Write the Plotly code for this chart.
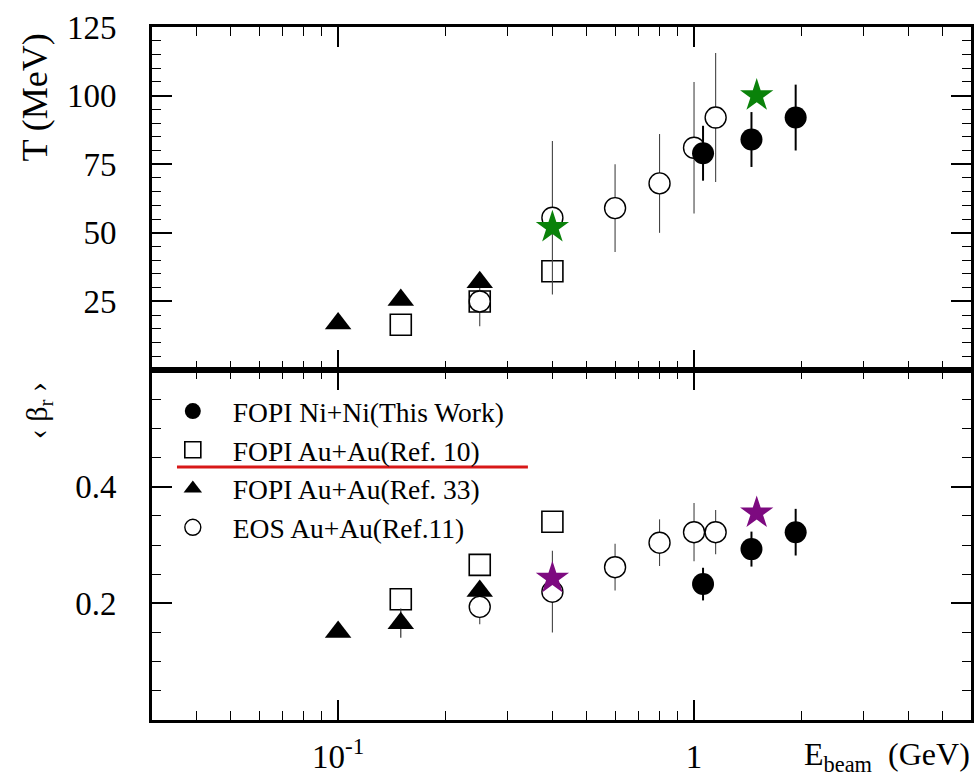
import numpy as np
import plotly.graph_objects as go

# ---- data -------------------------------------------------------------
# FOPI Ni+Ni (this work)
E_ni = [1.06, 1.45, 1.93]
T_ni = [79, 84, 92]
T_ni_err = [10, 10, 12]
B_ni = [0.233, 0.293, 0.322]
B_ni_err = [0.028, 0.030, 0.040]

# FOPI Au+Au (Ref. 10)
E_au10 = [0.15, 0.25, 0.40]
T_au10 = [16.5, 25, 36]
B_au10 = [0.207, 0.266, 0.340]

# FOPI Au+Au (Ref. 33)
E_au33 = [0.10, 0.15, 0.25]
T_au33 = [17, 25.5, 32]
B_au33 = [0.151, 0.166, 0.221]
B_au33_err = [0.0, 0.025, 0.0]

# EOS Au+Au (Ref. 11)
E_eos = [0.25, 0.40, 0.60, 0.80, 1.00, 1.15]
T_eos = [25, 55.5, 59, 68, 81, 92]
T_eos_err = [9, 28, 16, 18, 24, 23.5]
B_eos = [0.194, 0.220, 0.262, 0.304, 0.322, 0.322]
B_eos_err = [0.030, 0.070, 0.040, 0.040, 0.050, 0.038]

# extra points (stars)
E_star = [0.40, 1.50]
T_star = [52, 100]
B_star = [0.243, 0.355]

# axis ticks
x_major = [0.1, 1]
x_major_text = ["10<sup>-1</sup>", "1"]
x_minor = [0.03, 0.04, 0.05, 0.06, 0.07, 0.08, 0.09,
           0.2, 0.3, 0.4, 0.5, 0.6, 0.7, 0.8, 0.9,
           2, 3, 4, 5, 6]
T_major = [25, 50, 75, 100, 125]
T_minor = [v for v in range(5, 125, 5) if v % 25]
B_major = [0.2, 0.4]
B_minor = [0.05, 0.1, 0.15, 0.25, 0.3, 0.35, 0.45, 0.5, 0.55]

FONT = "Liberation Serif"
BLACK = "black"

fig = go.Figure()


def add_panel(yref, xref, show_legend):
    y_au10 = T_au10 if yref == "y" else B_au10
    y_eos = T_eos if yref == "y" else B_eos
    e_eos = T_eos_err if yref == "y" else B_eos_err
    y_au33 = T_au33 if yref == "y" else B_au33
    y_ni = T_ni if yref == "y" else B_ni
    e_ni = T_ni_err if yref == "y" else B_ni_err
    y_st = T_star if yref == "y" else B_star
    star_col = "#0a820a" if yref == "y" else "#7d0a80"

    fig.add_trace(go.Scatter(
        x=E_au10, y=y_au10, mode="markers", xaxis=xref, yaxis=yref,
        name="FOPI Au+Au(Ref. 10)", legendgroup="au10", legendrank=2,
        showlegend=show_legend,
        marker=dict(symbol="square", size=21, color="white",
                    line=dict(color=BLACK, width=1.6))))
    fig.add_trace(go.Scatter(
        x=E_eos, y=y_eos, mode="markers", xaxis=xref, yaxis=yref,
        name="EOS Au+Au(Ref.11)", legendgroup="eos", legendrank=4,
        showlegend=show_legend,
        error_y=dict(type="data", array=e_eos, color="#444", thickness=1.1, width=0),
        marker=dict(symbol="circle", size=21, color="white",
                    line=dict(color=BLACK, width=1.4))))
    au33 = dict(x=E_au33, y=y_au33, mode="markers", xaxis=xref, yaxis=yref,
                name="FOPI Au+Au(Ref. 33)", legendgroup="au33", legendrank=3,
                showlegend=show_legend,
                marker=dict(symbol="triangle-up", size=23, color=BLACK,
                            line=dict(color=BLACK, width=0)))
    if yref != "y":
        au33["error_y"] = dict(type="data", array=B_au33_err, color="#333",
                               thickness=1.2, width=0)
    fig.add_trace(go.Scatter(**au33))
    fig.add_trace(go.Scatter(
        x=E_ni, y=y_ni, mode="markers", xaxis=xref, yaxis=yref,
        name="FOPI Ni+Ni(This Work)", legendgroup="ni", legendrank=1,
        showlegend=show_legend,
        error_y=dict(type="data", array=e_ni, color=BLACK, thickness=2, width=0),
        marker=dict(symbol="circle", size=22, color=BLACK)))
    fig.add_trace(go.Scatter(
        x=E_star, y=y_st, mode="markers", xaxis=xref, yaxis=yref,
        showlegend=False,
        marker=dict(symbol="star", size=25, color=star_col,
                    line=dict(width=0))))


add_panel("y", "x", False)
add_panel("y2", "x2", True)

frame = dict(showline=True, linewidth=3, linecolor=BLACK, mirror="allticks",
             ticks="inside", tickcolor=BLACK, tickwidth=1.5, ticklen=20,
             showgrid=False, zeroline=False, automargin=False,
             tickfont=dict(family=FONT, size=33, color=BLACK))
xlog = dict(type="log", range=[np.log10(0.03), np.log10(6)],
            tickmode="array", tickvals=x_major,
            minor=dict(tickmode="array", tickvals=x_minor, ticks="inside",
                       ticklen=9, tickwidth=1.3, tickcolor=BLACK, showgrid=False))

fig.update_layout(
    width=980, height=779,
    margin=dict(l=152, r=9, t=27, b=59),
    paper_bgcolor="white", plot_bgcolor="white",
    font=dict(family=FONT, color=BLACK),
    xaxis=dict(**frame, **xlog, domain=[0, 1], anchor="y", matches="x2",
               showticklabels=False),
    xaxis2=dict(**frame, **xlog, domain=[0, 1], anchor="y2",
                ticktext=x_major_text, ticklabelstandoff=5),
    yaxis=dict(**frame, domain=[0.505, 1], anchor="x", range=[0, 125],
               tickmode="array", tickvals=T_major, ticklabelstandoff=26,
               minor=dict(tickmode="array", tickvals=T_minor, ticks="inside",
                          ticklen=9, tickwidth=1.3, tickcolor=BLACK)),
    yaxis2=dict(**frame, domain=[0, 0.505], anchor="x2", range=[0, 0.6],
                tickmode="array", tickvals=B_major, ticklabelstandoff=26,
                minor=dict(tickmode="array", tickvals=B_minor, ticks="inside",
                           ticklen=9, tickwidth=1.3, tickcolor=BLACK)),
    legend=dict(x=0.001, y=0.481, xanchor="left", yanchor="top",
                bgcolor="rgba(0,0,0,0)", itemwidth=70,
                font=dict(family=FONT, size=27.5, color=BLACK),
                tracegroupgap=0),
    showlegend=True,
)

# axis titles and the red underline under the second legend entry
fig.add_annotation(text="T (MeV)", xref="paper", yref="paper",
                   x=-0.143, y=0.898, xanchor="center", yanchor="middle",
                   textangle=-90, showarrow=False,
                   font=dict(family=FONT, size=36, color=BLACK))
fig.add_annotation(text="\u2039 \u03b2<sub>r</sub> \u203a", xref="paper", yref="paper",
                   x=-0.138, y=0.447, xanchor="center", yanchor="middle",
                   textangle=-90, showarrow=False,
                   font=dict(family=FONT, size=30, color=BLACK))
fig.add_annotation(text="E<sub>beam</sub>\u00a0\u00a0(GeV)", xref="paper", yref="paper",
                   x=0.897, y=-0.0845, xanchor="center", yanchor="bottom",
                   showarrow=False,
                   font=dict(family=FONT, size=32, color=BLACK))
fig.add_shape(type="line", xref="paper", yref="paper",
              x0=0.0305, x1=0.459, y0=0.365, y1=0.365,
              line=dict(color="#d81818", width=3))

fig.write_html("out.html")
